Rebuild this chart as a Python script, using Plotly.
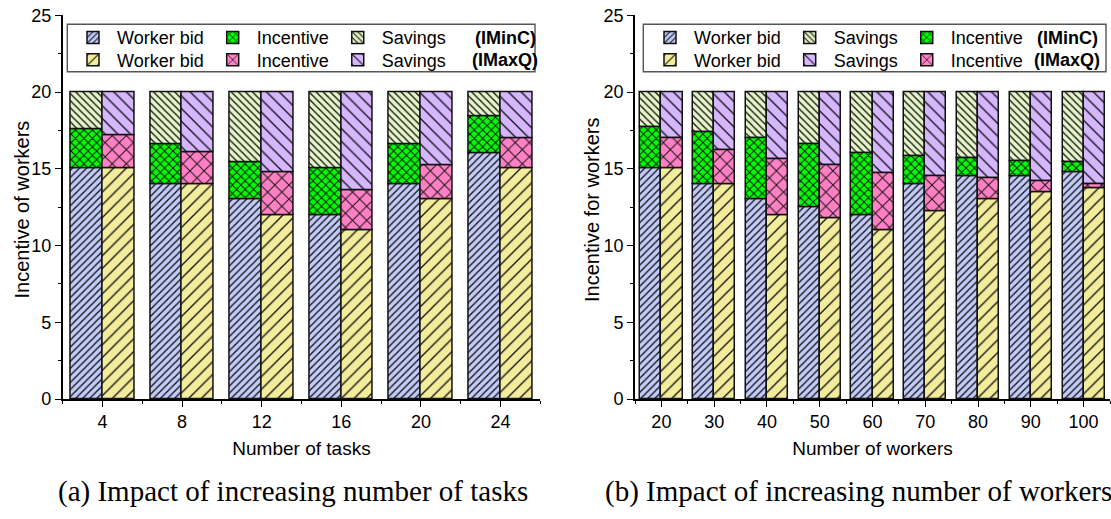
import numpy as np
import plotly.graph_objects as go

# ---------------- data ----------------
tasks = [4, 8, 12, 16, 20, 24]
a_minc_bid = [15, 14, 13, 12, 14, 16]
a_minc_inc = [2.6, 2.6, 2.4, 3.0, 2.6, 2.4]
a_minc_sav = [2.4, 3.4, 4.6, 5.0, 3.4, 1.6]
a_maxq_bid = [15, 14, 12, 11, 13, 15]
a_maxq_inc = [2.2, 2.1, 2.8, 2.6, 2.2, 2.0]
a_maxq_sav = [2.8, 3.9, 5.2, 6.4, 4.8, 3.0]

workers = [20, 30, 40, 50, 60, 70, 80, 90, 100]
b_minc_bid = [15, 14, 13, 12.5, 12, 14, 14.5, 14.5, 14.8]
b_minc_inc = [2.7, 3.4, 4.0, 4.1, 4.0, 1.8, 1.2, 1.0, 0.6]
b_minc_sav = [2.3, 2.6, 3.0, 3.4, 4.0, 4.2, 4.3, 4.5, 4.6]
b_maxq_bid = [15, 14, 12, 11.8, 11, 12.2, 13, 13.5, 13.7]
b_maxq_inc = [2.0, 2.2, 3.6, 3.4, 3.7, 2.3, 1.35, 0.7, 0.3]
b_maxq_sav = [3.0, 3.8, 4.4, 4.8, 5.3, 5.5, 5.65, 5.8, 6.0]

x_ticks_a = [4, 8, 12, 16, 20, 24]
x_ticks_b = [20, 30, 40, 50, 60, 70, 80, 90, 100]

# ---------------- styles ----------------
W, H = 1111, 519
SANS = "Liberation Sans, Arial, sans-serif"
SERIF = "Liberation Serif, Times New Roman, serif"

styles = {
    "minc_bid": dict(color="#C2CAF8", shape="/", size=5, solidity=0.26),
    "minc_inc": dict(color="#00FF00", shape="x", size=6, solidity=0.3),
    "minc_sav": dict(color="#E4F4C8", shape="\\", size=5, solidity=0.26),
    "maxq_bid": dict(color="#F3EC9C", shape="/", size=9, solidity=0.15),
    "maxq_inc": dict(color="#FF80C4", shape="x", size=10, solidity=0.18),
    "maxq_sav": dict(color="#D6B6FF", shape="\\", size=9, solidity=0.15),
}


def bar(x, y, base, key, name, xa, ya, legend, rank, offset, width):
    s = styles[key]
    return go.Bar(
        x=x, y=y, base=base, name=name,
        xaxis=xa, yaxis=ya, legend=legend, legendrank=rank,
        offset=offset, width=width,
        marker=dict(
            color=s["color"],
            line=dict(color="#111111", width=1.5),
            pattern=dict(shape=s["shape"], bgcolor=s["color"], fgcolor="#111111",
                         size=s["size"], solidity=s["solidity"], fillmode="replace"),
        ),
        hoverinfo="x+y",
    )


fig = go.Figure()

# panel (a)
bw_a = 1.6
ab1 = np.array(a_minc_bid); ai1 = np.array(a_minc_inc)
ab2 = np.array(a_maxq_bid); ai2 = np.array(a_maxq_inc)
fig.add_trace(bar(tasks, a_minc_bid, np.zeros(len(tasks)), "minc_bid", "Worker bid", "x", "y", "legend", 1, -bw_a, bw_a))
fig.add_trace(bar(tasks, a_minc_inc, ab1, "minc_inc", "Incentive", "x", "y", "legend", 2, -bw_a, bw_a))
fig.add_trace(bar(tasks, a_minc_sav, ab1 + ai1, "minc_sav", "Savings", "x", "y", "legend", 3, -bw_a, bw_a))
fig.add_trace(bar(tasks, a_maxq_bid, np.zeros(len(tasks)), "maxq_bid", "Worker bid", "x", "y", "legend2", 1, 0, bw_a))
fig.add_trace(bar(tasks, a_maxq_inc, ab2, "maxq_inc", "Incentive", "x", "y", "legend2", 2, 0, bw_a))
fig.add_trace(bar(tasks, a_maxq_sav, ab2 + ai2, "maxq_sav", "Savings", "x", "y", "legend2", 3, 0, bw_a))

# panel (b)
bw_b = 4.0
bb1 = np.array(b_minc_bid); bi1 = np.array(b_minc_inc)
bb2 = np.array(b_maxq_bid); bi2 = np.array(b_maxq_inc)
fig.add_trace(bar(workers, b_minc_bid, np.zeros(len(workers)), "minc_bid", "Worker bid", "x2", "y2", "legend3", 1, -bw_b, bw_b))
fig.add_trace(bar(workers, b_minc_sav, bb1 + bi1, "minc_sav", "Savings", "x2", "y2", "legend3", 2, -bw_b, bw_b))
fig.add_trace(bar(workers, b_minc_inc, bb1, "minc_inc", "Incentive", "x2", "y2", "legend3", 3, -bw_b, bw_b))
fig.add_trace(bar(workers, b_maxq_bid, np.zeros(len(workers)), "maxq_bid", "Worker bid", "x2", "y2", "legend4", 1, 0, bw_b))
fig.add_trace(bar(workers, b_maxq_sav, bb2 + bi2, "maxq_sav", "Savings", "x2", "y2", "legend4", 2, 0, bw_b))
fig.add_trace(bar(workers, b_maxq_inc, bb2, "maxq_inc", "Incentive", "x2", "y2", "legend4", 3, 0, bw_b))

# ---------------- layout ----------------
dom_a = [62.7 / W, 540.3 / W]
dom_b = [635.0 / W, 1110.0 / W]
dom_y = [(H - 399.0) / H, (H - 15.3) / H]

tickfont = dict(family=SANS, size=18, color="#000000")
xtitlefont = dict(family=SANS, size=19, color="#000000")
LC = "#000000"
LW = 1.6


def xaxis(domain, rng, tickvals, minor_dtick, title, anchor):
    return dict(
        domain=domain, range=rng, anchor=anchor, automargin=False,
        tickmode="array", tickvals=tickvals,
        ticks="outside", ticklen=6, tickwidth=1.4, tickcolor=LC,
        minor=dict(ticks="outside", ticklen=3, tickwidth=1.4, tickcolor=LC,
                   tickmode="linear", tick0=0, dtick=minor_dtick),
        showline=True, linecolor=LC, linewidth=LW,
        showgrid=False, zeroline=False, tickfont=tickfont,
        title=dict(text=title, font=xtitlefont, standoff=10),
        fixedrange=True,
    )


def yaxis(anchor):
    return dict(
        domain=dom_y, range=[0, 25], anchor=anchor, automargin=False,
        tickmode="linear", tick0=0, dtick=5,
        ticks="outside", ticklen=6, tickwidth=1.4, tickcolor=LC,
        minor=dict(ticks="outside", ticklen=3, tickwidth=1.4, tickcolor=LC,
                   tickmode="linear", tick0=0, dtick=2.5),
        showline=True, linecolor=LC, linewidth=LW,
        showgrid=False, zeroline=False, tickfont=tickfont,
        fixedrange=True,
    )


def top_axis(over, rng, tickvals, minor_dtick, anchor):
    return dict(
        overlaying=over, side="top", anchor=anchor, range=rng, automargin=False,
        tickmode="array", tickvals=tickvals, showticklabels=False,
        ticks="inside", ticklen=7, tickwidth=1.4, tickcolor=LC,
        minor=dict(ticks="inside", ticklen=4, tickwidth=1.4, tickcolor=LC,
                   tickmode="linear", tick0=0, dtick=minor_dtick),
        showline=True, linecolor=LC, linewidth=LW,
        showgrid=False, zeroline=False, fixedrange=True,
    )


def right_axis(over, anchor):
    return dict(
        overlaying=over, side="right", anchor=anchor, range=[0, 25], automargin=False,
        tickmode="linear", tick0=0, dtick=5, showticklabels=False,
        ticks="inside", ticklen=6, tickwidth=1.4, tickcolor=LC,
        minor=dict(ticks="inside", ticklen=3, tickwidth=1.4, tickcolor=LC,
                   tickmode="linear", tick0=0, dtick=2.5),
        showline=True, linecolor=LC, linewidth=LW,
        showgrid=False, zeroline=False, fixedrange=True,
    )


legend_common = dict(
    orientation="h", xanchor="left", yanchor="middle",
    font=dict(family=SANS, size=18, color="#000000"),
    bgcolor="rgba(0,0,0,0)", borderwidth=0, itemwidth=38,
    itemclick=False, itemdoubleclick=False,
    traceorder="normal",
)

row1_y = (H - 37.7) / H
row2_y = (H - 60.0) / H


def note(text, x, y, size=18, family=SANS, angle=0):
    return dict(text=text, xref="paper", yref="paper", x=x / W, y=(H - y) / H,
                xanchor="center", yanchor="middle", showarrow=False, textangle=angle,
                font=dict(family=family, size=size, color="#000000"))


fig.update_layout(
    width=W, height=H, autosize=False,
    margin=dict(l=0, r=0, t=0, b=0, pad=0, autoexpand=False),
    paper_bgcolor="#FFFFFF", plot_bgcolor="#FFFFFF",
    barmode="overlay", bargap=0,
    showlegend=True,
    xaxis=xaxis(dom_a, [2, 26], x_ticks_a, 2, "Number of tasks", "y"),
    yaxis=yaxis("x"),
    xaxis2=xaxis(dom_b, [15, 105], x_ticks_b, 5, "Number of workers", "y2"),
    yaxis2=yaxis("x2"),
    xaxis3=top_axis("x", [2, 26], x_ticks_a, 2, "y"),
    yaxis3=right_axis("y", "x"),
    xaxis4=top_axis("x2", [15, 105], x_ticks_b, 5, "y2"),
    yaxis4=right_axis("y2", "x2"),
    legend=dict(legend_common, x=69.0 / W, y=row1_y),
    legend2=dict(legend_common, x=69.0 / W, y=row2_y),
    legend3=dict(legend_common, x=646.0 / W, y=row1_y),
    legend4=dict(legend_common, x=646.0 / W, y=row2_y),
    shapes=[
        dict(type="rect", xref="paper", yref="paper", layer="below",
             x0=67.3 / W, x1=535.0 / W, y0=(H - 71.7) / H, y1=(H - 24.3) / H,
             line=dict(color="#555555", width=1.4), fillcolor="#FFFFFF"),
        dict(type="rect", xref="paper", yref="paper", layer="below",
             x0=643.3 / W, x1=1106.0 / W, y0=(H - 71.7) / H, y1=(H - 24.3) / H,
             line=dict(color="#555555", width=1.4), fillcolor="#FFFFFF"),
    ],
    annotations=[
        note("<b>(IMinC)</b>", 505.0, 37.7),
        note("<b>(IMaxQ)</b>", 505.0, 60.0),
        note("<b>(IMinC)</b>", 1067.0, 37.7),
        note("<b>(IMaxQ)</b>", 1067.0, 60.0),
        note("Incentive of workers", 21.0, 209.5, size=20, angle=-90),
        note("Incentive for workers", 591.5, 209.5, size=20, angle=-90),
        note("(a) Impact of increasing number of tasks", 293.0, 491.0, size=29, family=SERIF),
        note("(b) Impact of increasing number of workers", 858.0, 491.0, size=29, family=SERIF),
    ],
)

fig.write_html("out.html", config={"displayModeBar": False})
